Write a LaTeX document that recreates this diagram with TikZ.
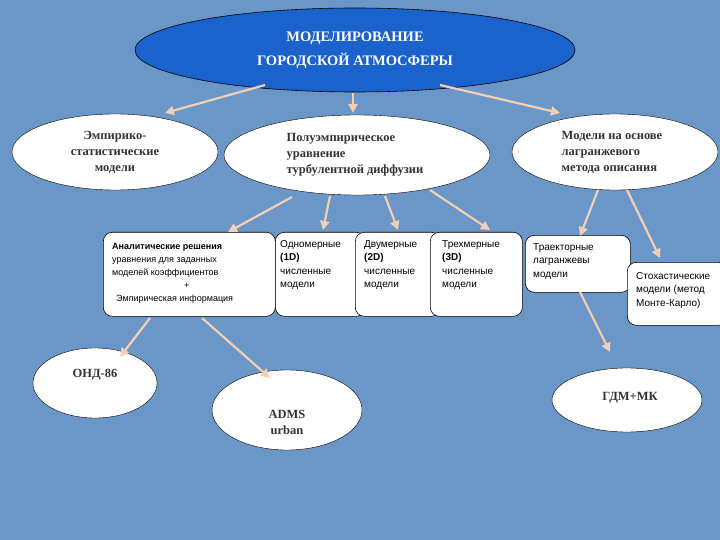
\documentclass[tikz,border=0pt]{standalone}
\usepackage{fontspec}
\setmainfont{Liberation Serif}
\newfontfamily\boxfont{Liberation Sans}
\usetikzlibrary{arrows.meta}
\definecolor{bg}{HTML}{6A96C8}
\definecolor{topblue}{HTML}{1A62CC}
\definecolor{arr}{HTML}{F2CFB4}
\tikzset{
 bx/.style={draw=black,fill=white,rounded corners=9pt,line width=0.6pt,anchor=north west,inner sep=0pt},
 bt/.style={font=\boxfont\fontsize{10}{13.5}\selectfont,align=left,anchor=north west,inner sep=0pt},
 et/.style={font=\bfseries\fontsize{12.5}{16}\selectfont,text=black!80},
 ar/.style={draw=arr,line width=2.2pt,-{Triangle[length=9pt,width=9pt]}}
}
\begin{document}
\begin{tikzpicture}[x=1pt,y=-1pt]
\path[use as bounding box,fill=bg] (0,0) rectangle (720,540);
\begin{scope}
\clip (0,0) rectangle (720,540);
\draw[fill=topblue,draw=black,line width=0.6pt] (355,50) ellipse (220 and 42);
\node[text=white,font=\bfseries\fontsize{14.5}{24}\selectfont,align=center] (top) at (355,50) {МОДЕЛИРОВАНИЕ\\ГОРОДСКОЙ АТМОСФЕРЫ};
\draw[fill=white] (115,152) ellipse (103 and 38);
\node[et,align=center] (emp) at (115,152) {Эмпирико-\\статистические\\модели};
\draw[fill=white] (357,155) ellipse (133 and 40);
\node[et,align=left] (pol) at (355,155) {Полуэмпирическое\\уравнение\\турбулентной диффузии};
\draw[fill=white] (615,152) ellipse (103 and 38);
\node[et,align=left] (lag) at (612,152) {Модели на основе\\лагранжевого\\метода описания};

\node[bx,minimum width=172pt,minimum height=84pt] (b1) at (103,232) {};
\node[bx,minimum width=90pt,minimum height=84pt] (b2) at (275,232) {};
\node[bx,minimum width=85pt,minimum height=84pt] (b3) at (355,232) {};
\node[bx,minimum width=92pt,minimum height=84pt] (b4) at (430,232) {};
\node[bx,minimum width=105pt,minimum height=57pt] (b5) at (525,235) {};
\node[bx,minimum width=100pt,minimum height=63pt] (b6) at (627,262) {};
\node[bt,font=\boxfont\fontsize{9}{13}\selectfont] (t1) at (112,243) {\textbf{Аналитические решения}\\уравнения для заданных\\моделей коэффициентов\\\hspace*{72pt}+\\\hspace*{4pt}Эмпирическая информация};
\node[bt] (t2) at (280,240) {Одномерные\\\textbf{(1D)}\\численные\\модели};
\node[bt] (t3) at (364,240) {Двумерные\\\textbf{(2D)}\\численные\\модели};
\node[bt] (t4) at (442,240) {Трехмерные\\\textbf{(3D)}\\численные\\модели};
\node[bt] (t5) at (533,243) {Траекторные\\лагранжевы\\модели};
\node[bt] (t6) at (636,272) {Стохастические\\модели (метод\\Монте-Карло)};

\draw[fill=white] (95,383) ellipse (62 and 35);
\node[et] (ond) at (95,375) {ОНД-86};
\draw[fill=white] (287,410) ellipse (75 and 40);
\node[et,align=center] (adms) at (287,422) {ADMS\\urban};
\draw[fill=white] (627,400) ellipse (75 and 32);
\node[et] (gdm) at (630,398) {ГДМ+МК};

\draw[ar] (265,85) -- (165,113);
\draw[ar] (353,93) -- (353,113);
\draw[ar] (440,85) -- (560,113);
\draw[ar] (292,197) -- (228,232);
\draw[ar] (330,196) -- (323,230);
\draw[ar] (385,196) -- (398,230);
\draw[ar] (430,190) -- (490,230);
\draw[ar] (150,318) -- (120,357);
\draw[ar] (202,318) -- (270,378);
\draw[ar] (598,190) -- (580,236);
\draw[ar] (627,190) -- (660,258);
\draw[ar] (580,292) -- (610,352);
\end{scope}
\end{tikzpicture}
\end{document}
